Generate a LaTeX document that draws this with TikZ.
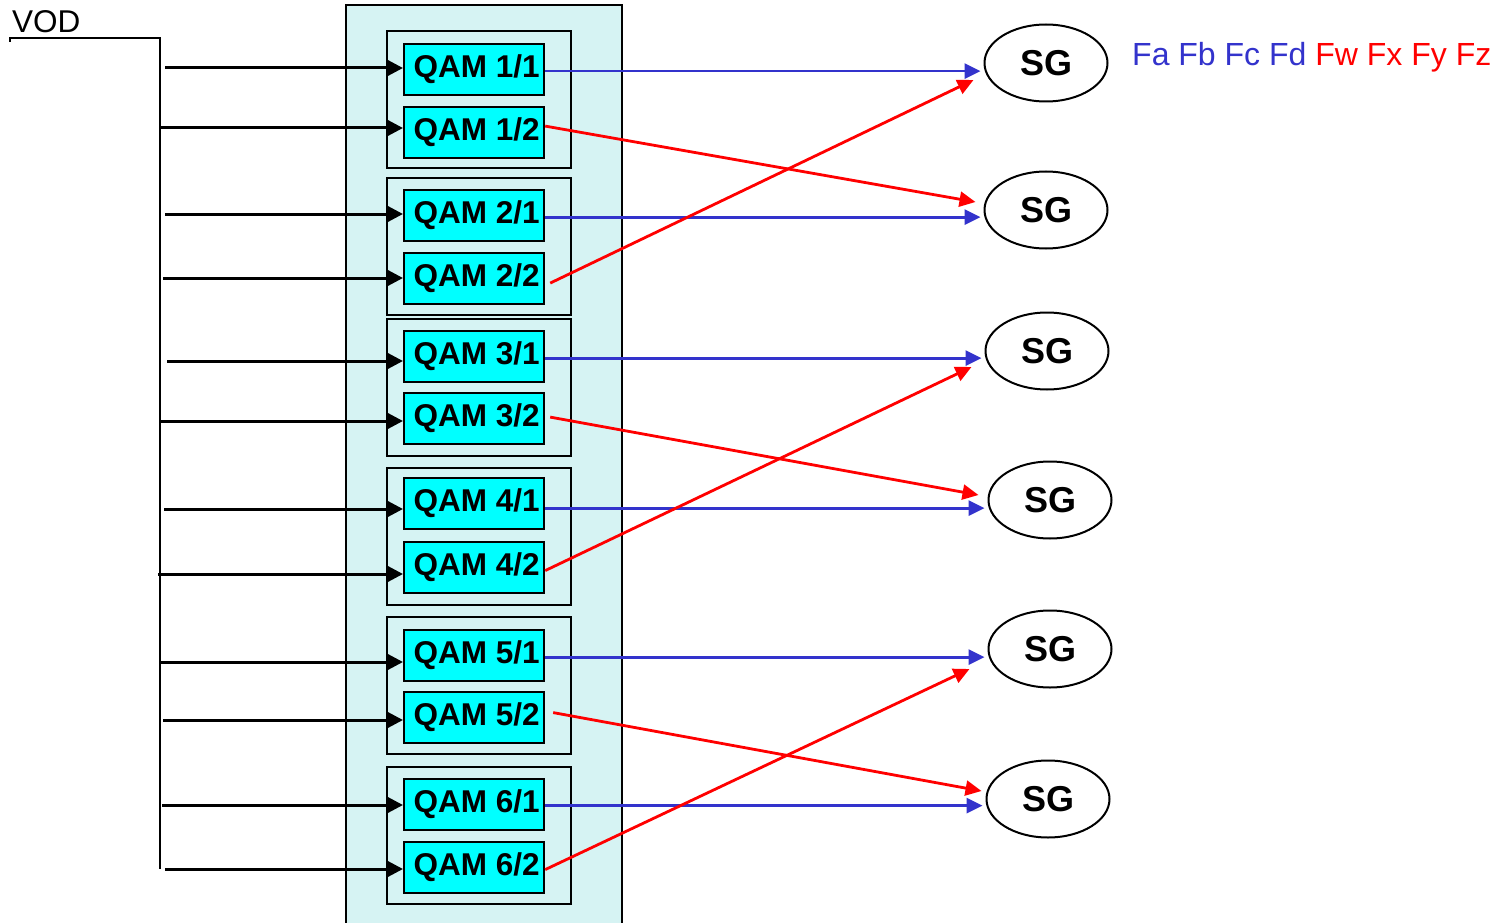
\documentclass[tikz,border=0pt]{standalone}
\usepackage{fontspec}
\setmainfont{Liberation Sans}
\usetikzlibrary{arrows.meta,shapes.geometric}
\definecolor{lcyan}{RGB}{214,243,243}
\definecolor{qcyan}{RGB}{0,255,255}
\definecolor{lblue}{RGB}{51,51,204}
\definecolor{lred}{RGB}{255,0,0}
\begin{document}
\begin{tikzpicture}[x=1pt,y=-1pt,
  qam/.style={draw=black,line width=2.2pt,fill=qcyan,minimum width=140pt,minimum height=51pt,inner sep=0pt,anchor=north west,font=\bfseries\fontsize{31.5}{31.5}\selectfont},
  grp/.style={draw=black,line width=2pt,minimum width=184pt,minimum height=137pt,inner sep=0pt,anchor=north west},
  sg/.style={ellipse,draw=black,line width=2pt,minimum width=123pt,minimum height=77pt,inner sep=0pt,font=\bfseries\fontsize{36}{36}\selectfont},
  inarr/.style={draw=black,line width=3pt,-{Triangle[length=15pt,width=15pt]}},
  barr/.style={draw=lblue,line width=2.8pt,shorten >=3pt,-{Triangle[length=16pt,width=15pt]}},
  rarr/.style={draw=lred,line width=2.8pt,-{Triangle[length=16pt,width=15pt]}}
]
\useasboundingbox (0,0) rectangle (1508,923);
% outer rack
\node[draw=black,line width=2pt,fill=lcyan,minimum width=276pt,minimum height=930pt,inner sep=0pt,anchor=north west] (rack) at (345,4) {};
% groups
\node[grp] (g1) at (386,30) {};
\node[grp] (g2) at (386,177) {};
\node[grp] (g3) at (386,318) {};
\node[grp] (g4) at (386,467) {};
\node[grp] (g5) at (386,616) {};
\node[grp] (g6) at (386,766) {};
% QAM boxes
\node[qam] (q11) at (403,43) {\hspace{5pt}QAM 1/1};
\node[qam] (q12) at (403,106) {\hspace{5pt}QAM 1/2};
\node[qam] (q21) at (403,189) {\hspace{5pt}QAM 2/1};
\node[qam] (q22) at (403,252) {\hspace{5pt}QAM 2/2};
\node[qam] (q31) at (403,330) {\hspace{5pt}QAM 3/1};
\node[qam] (q32) at (403,392) {\hspace{5pt}QAM 3/2};
\node[qam] (q41) at (403,477) {\hspace{5pt}QAM 4/1};
\node[qam] (q42) at (403,541) {\hspace{5pt}QAM 4/2};
\node[qam] (q51) at (403,629) {\hspace{5pt}QAM 5/1};
\node[qam] (q52) at (403,691) {\hspace{5pt}QAM 5/2};
\node[qam] (q61) at (403,778) {\hspace{5pt}QAM 6/1};
\node[qam] (q62) at (403,841) {\hspace{5pt}QAM 6/2};
% SG ellipses
\node[sg] (sg1) at (1046,63) {\raisebox{-2pt}{SG}};
\node[sg] (sg2) at (1046,210) {\raisebox{-2pt}{SG}};
\node[sg] (sg3) at (1047,351) {\raisebox{-2pt}{SG}};
\node[sg] (sg4) at (1050,500) {\raisebox{-2pt}{SG}};
\node[sg] (sg5) at (1050,649) {\raisebox{-2pt}{SG}};
\node[sg] (sg6) at (1048,799) {\raisebox{-2pt}{SG}};
% labels
\node[anchor=base west,inner sep=0pt,font=\fontsize{31.5}{31.5}\selectfont] (vod) at (12,33) {VOD};
\node[anchor=base west,inner sep=0pt,font=\fontsize{32}{32}\selectfont] (legend) at (1132,66) {\textcolor{lblue}{Fa Fb Fc Fd} \textcolor{lred}{Fw Fx Fy Fz}};
% VOD bus
\coordinate (vodl) at (10,38);
\coordinate (vtop) at (160,38);
\coordinate (vbot) at (160,869);
\draw[line width=2pt] ([yshift=-4pt]vodl) -- (vodl) -- (vtop) -- (vbot);
% input arrows
\coordinate (i1) at (165,68);
\coordinate (i2) at (160,128);
\coordinate (i3) at (165,214);
\coordinate (i4) at (163,278);
\coordinate (i5) at (167,361);
\coordinate (i6) at (160,421);
\coordinate (i7) at (164,509);
\coordinate (i8) at (158,574);
\coordinate (i9) at (160,662);
\coordinate (i10) at (163,720);
\coordinate (i11) at (162,805);
\coordinate (i12) at (165,869);
\draw[inarr] (i1) -- (i1 -| q11.west);
\draw[inarr] (i2) -- (i2 -| q12.west);
\draw[inarr] (i3) -- (i3 -| q21.west);
\draw[inarr] (i4) -- (i4 -| q22.west);
\draw[inarr] (i5) -- (i5 -| q31.west);
\draw[inarr] (i6) -- (i6 -| q32.west);
\draw[inarr] (i7) -- (i7 -| q41.west);
\draw[inarr] (i8) -- (i8 -| q42.west);
\draw[inarr] (i9) -- (i9 -| q51.west);
\draw[inarr] (i10) -- (i10 -| q52.west);
\draw[inarr] (i11) -- (i11 -| q61.west);
\draw[inarr] (i12) -- (i12 -| q62.west);
% blue outputs
\draw[barr] ([yshift=-1.5pt]q11.east) -- ([yshift=-1.5pt]q11.east -| sg1.west);
\draw[barr] ([yshift=-1.5pt]q21.east) -- ([yshift=-1.5pt]q21.east -| sg2.west);
\draw[barr] ([yshift=-1.5pt]q31.east) -- ([yshift=-1.5pt]q31.east -| sg3.west);
\draw[barr] ([yshift=-4.5pt]q41.east) -- ([yshift=-4.5pt]q41.east -| sg4.west);
\draw[barr] ([yshift=-1.5pt]q51.east) -- ([yshift=-1.5pt]q51.east -| sg5.west);
\draw[barr] ([yshift=-1pt]q61.east) -- ([yshift=-1pt]q61.east -| sg6.west);
% red outputs
\draw[rarr] ([yshift=6.5pt]q12.east) -- ([xshift=-8pt,yshift=8pt]sg2.west);
\draw[rarr] ([xshift=5pt,yshift=-4.5pt]q22.east) -- ([xshift=-10pt,yshift=-17pt]sg1.west);
\draw[rarr] ([xshift=5pt,yshift=1.5pt]q32.east) -- ([xshift=-9pt,yshift=5pt]sg4.west);
\draw[rarr] ([yshift=-3pt]q42.east) -- ([xshift=-13pt,yshift=-16pt]sg3.west);
\draw[rarr] ([xshift=8pt,yshift=5pt]q52.east) -- ([xshift=-4pt,yshift=8pt]sg6.west);
\draw[rarr] ([yshift=-2pt]q62.east) -- ([xshift=-18pt,yshift=-20pt]sg5.west);
\end{tikzpicture}
\end{document}
